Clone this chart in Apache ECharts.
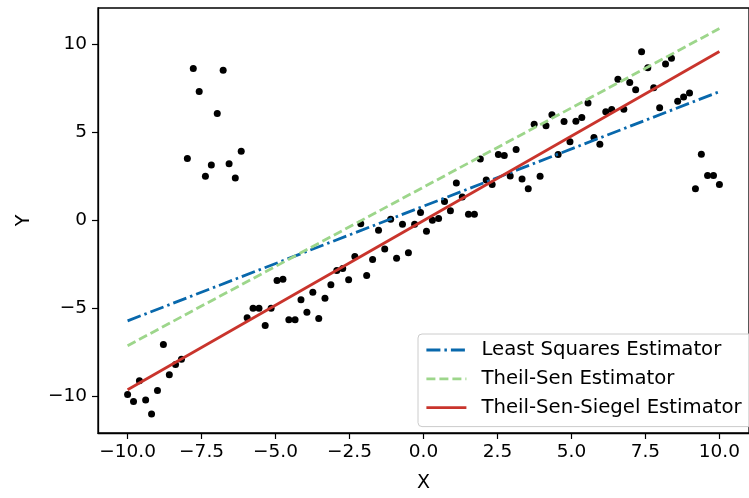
<!DOCTYPE html>
<html>
<head>
<meta charset="utf-8">
<script src="https://cdn.jsdelivr.net/npm/echarts@6/dist/echarts.min.js"></script>
<style>html,body{margin:0;padding:0;background:#fff}#c{width:749px;height:498px}</style>
</head>
<body>
<div id="c"></div>
<script>
const xs = [-10.00,-9.80,-9.60,-9.39,-9.19,-8.99,-8.79,-8.59,-8.38,-8.18,
-7.98,-7.78,-7.58,-7.37,-7.17,-6.97,-6.77,-6.57,-6.36,-6.16,
-5.96,-5.76,-5.56,-5.35,-5.15,-4.95,-4.75,-4.55,-4.34,-4.14,
-3.94,-3.74,-3.54,-3.33,-3.13,-2.93,-2.73,-2.53,-2.32,-2.12,
-1.92,-1.72,-1.52,-1.31,-1.11,-0.91,-0.71,-0.51,-0.30,-0.10,
0.10,0.30,0.51,0.71,0.91,1.11,1.31,1.52,1.72,1.92,
2.12,2.32,2.53,2.73,2.93,3.13,3.33,3.54,3.74,3.94,
4.14,4.34,4.55,4.75,4.95,5.15,5.35,5.56,5.76,5.96,
6.16,6.36,6.57,6.77,6.97,7.17,7.37,7.58,7.78,7.98,
8.18,8.38,8.59,8.79,8.99,9.19,9.39,9.60,9.80,10.00];
const ys = [-9.90,-10.29,-9.11,-10.20,-11.00,-9.67,-7.06,-8.77,-8.19,-7.89,
3.51,8.62,7.32,2.50,3.14,6.07,8.52,3.21,2.40,3.93,
-5.54,-5.00,-5.00,-5.97,-5.00,-3.42,-3.34,-5.65,-5.65,-4.51,
-5.22,-4.09,-5.58,-4.43,-3.66,-2.85,-2.74,-3.38,-2.05,-0.19,
-3.14,-2.22,-0.56,-1.63,0.06,-2.16,-0.23,-1.84,-0.23,0.45,
-0.62,0.00,0.11,1.07,0.55,2.12,1.33,0.34,0.34,3.49,
2.29,2.03,3.74,3.68,2.52,4.02,2.35,1.79,5.45,2.50,
5.37,5.99,3.74,5.62,4.47,5.63,5.84,6.67,4.71,4.32,
6.16,6.29,8.02,6.31,7.83,7.42,9.58,8.66,7.53,6.40,
8.88,9.20,6.76,7.00,7.23,1.80,3.76,2.54,2.54,2.03];
const lineX = [-10, 10];
const lsY = [-5.71, 7.31];
const tsY = [-7.12, 10.89];
const tssY = [-9.62, 9.59];
const xTicks = [-10, -7.5, -5, -2.5, 0, 2.5, 5, 7.5, 10];
const yTicks = [-10, -5, 0, 5, 10];
const names = ['Least Squares Estimator', 'Theil-Sen Estimator', 'Theil-Sen-Siegel Estimator'];

const pts = xs.map((x, i) => [x, ys[i]]);
const mk = arr => lineX.map((x, i) => [x, arr[i]]);
const FONT = 'DejaVu Sans';
const minus = s => String(s).replace('-', '\u2212');

const chart = echarts.init(document.getElementById('c'), null, {renderer: 'canvas'});
chart.setOption({
  animation: false,
  backgroundColor: '#fff',
  textStyle: {fontFamily: FONT},
  grid: {left: 98, top: 8, width: 660, height: 428.5, show: true, borderColor: '#000', borderWidth: 1.3, backgroundColor: 'transparent'},
  xAxis: {
    type: 'value', min: -11, max: 11,
    name: 'X', nameLocation: 'middle', nameGap: 41,
    nameTextStyle: {fontFamily: FONT, fontSize: 19, color: '#000'},
    axisLine: {show: true, onZero: false, lineStyle: {color: '#000', width: 1.3}},
    axisTick: {show: true, length: 6, customValues: xTicks, lineStyle: {color: '#000', width: 1.2}},
    axisLabel: {customValues: xTicks, margin: 10, fontFamily: FONT, fontSize: 18.5, color: '#000',
      formatter: v => minus(Number(v).toFixed(1))},
    splitLine: {show: false}
  },
  yAxis: {
    type: 'value', min: -12.08, max: 12.06,
    name: 'Y', nameLocation: 'middle', nameGap: 64, nameRotate: 90,
    nameTextStyle: {fontFamily: FONT, fontSize: 19, color: '#000'},
    axisLine: {show: true, onZero: false, lineStyle: {color: '#000', width: 1.3}},
    axisTick: {show: true, length: 6, customValues: yTicks, lineStyle: {color: '#000', width: 1.2}},
    axisLabel: {customValues: yTicks, margin: 11, fontFamily: FONT, fontSize: 18.5, color: '#000',
      formatter: v => minus(Math.round(v))},
    splitLine: {show: false}
  },
  legend: {
    data: names,
    orient: 'vertical',
    left: 418, top: 334,
    padding: [6, 26, 9, 7],
    itemWidth: 40, itemHeight: 20, itemGap: 8.8,
    borderColor: '#cccccc', borderWidth: 1, borderRadius: 4,
    backgroundColor: 'rgba(255,255,255,0.8)',
    itemStyle: {opacity: 0, borderWidth: 0},
    lineStyle: {width: 2.8},
    textStyle: {fontFamily: FONT, fontSize: 19.7, color: '#000', lineHeight: 20, padding: [0, 0, 0, 10]}
  },
  series: [
    {type: 'scatter', name: 'data', data: pts, symbol: 'circle', symbolSize: 7,
      itemStyle: {color: '#000', opacity: 1}, z: 2},
    {type: 'line', name: names[0], data: mk(lsY), symbol: 'none', z: 3,
      lineStyle: {color: '#0868ac', width: 2.8, type: [14, 4, 2.5, 4]}, itemStyle: {color: '#0868ac'}},
    {type: 'line', name: names[1], data: mk(tsY), symbol: 'none', z: 3,
      lineStyle: {color: '#9dd68b', width: 2.8, type: [9, 4]}, itemStyle: {color: '#9dd68b'}},
    {type: 'line', name: names[2], data: mk(tssY), symbol: 'none', z: 3,
      lineStyle: {color: '#c9342c', width: 2.8}, itemStyle: {color: '#c9342c'}}
  ]
});
</script>
</body>
</html>
